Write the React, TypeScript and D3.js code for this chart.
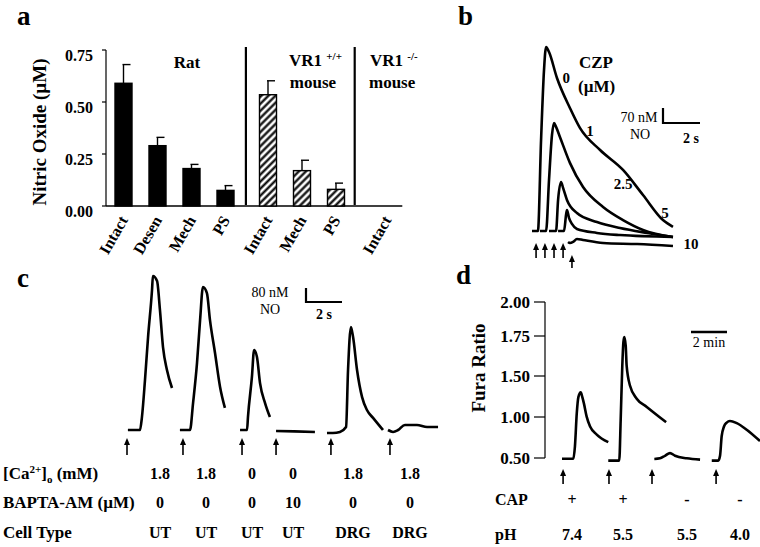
import React from "react";
import * as d3 from "d3";

const FONT = "'Liberation Serif', 'Times New Roman', serif";

// ---- panel a : NO release, mean + error
const ratCats = ["Intact", "Desen", "Mech", "PS"];
const ratMeans = [0.59, 0.29, 0.18, 0.075];
const ratErrs = [0.09, 0.04, 0.02, 0.023];
const wtCats = ["Intact", "Mech", "PS"];
const wtMeans = [0.535, 0.17, 0.08];
const wtErrs = [0.067, 0.05, 0.03];
const koCats = ["Intact"];
const koMeans = [0];
const koErrs = [0];
const noTicks = [0, 0.25, 0.5, 0.75];

// ---- panel b : NO traces vs capsazepine, [time s, NO nM]
const czpDoses = ["0", "1", "2.5", "5", "10"];
const czp0 = [[0, 0], [0.32, 0], [0.49, 425], [0.65, 752], [0.76, 859], [0.92, 835], [1.35, 714], [2.05, 574], [2.59, 481], [3.68, 378], [4.92, 285], [6.0, 168], [7.08, 51], [7.62, 19]];
const czp1 = [[0.43, 0], [0.76, 0], [0.92, 238], [1.08, 448], [1.19, 504], [1.3, 486], [1.51, 439], [2.05, 318], [2.76, 205], [3.84, 112], [4.92, 51], [6.0, 5], [7.62, -28]];
const czp25 = [[0.92, 0], [1.3, 0], [1.41, 145], [1.57, 229], [1.68, 201], [1.89, 145], [2.43, 84], [3.51, 42], [4.76, 14], [6.22, -9], [7.62, -28]];
const czp5 = [[1.41, 0], [1.73, 0], [1.84, 75], [1.89, 98], [2.0, 61], [2.16, 33], [2.43, 9], [3.51, -9], [4.76, -19], [7.62, -28]];
const czp10 = [[1.95, -51], [2.05, -56], [2.22, -51], [2.43, -37], [2.76, -42], [3.84, -56], [5.68, -61], [7.62, -70]];
const czpTraces = [czp0, czp1, czp25, czp5, czp10];
const czpLabelPos = [[1.85, 691], [3.14, 444], [4.92, 196], [7.19, 61], [8.59, -84]];
const czpArrows = [0.22, 0.7, 1.19, 1.68, 2.16];

// ---- panel c : NO traces per condition, [time s, NO nM]
const cTrace1 = [[0.05, 0], [0.72, 0], [0.83, 74], [1.0, 286], [1.17, 531], [1.39, 800], [1.44, 880], [1.67, 851], [1.83, 686], [2.0, 474], [2.22, 343], [2.5, 240]];
const cTrace2 = [[2.94, 0], [3.5, 0], [3.67, 154], [3.89, 383], [4.06, 628], [4.22, 817], [4.44, 782], [4.61, 628], [4.89, 440], [5.17, 246], [5.44, 126]];
const cTrace3 = [[6.28, 0], [6.67, 0], [6.72, 74], [6.94, 303], [7.06, 457], [7.22, 417], [7.39, 268], [7.67, 154], [7.94, 74]];
const cTrace4 = [[8.28, -6], [9.3, -8], [10.44, -11]];
const cTrace5 = [[11.11, -17], [11.44, -17], [11.83, -11], [12.17, 17], [12.28, 343], [12.44, 588], [12.56, 531], [12.78, 343], [13.06, 188], [13.33, 114], [13.67, 69], [14.22, 0]];
const cTrace6 = [[14.5, 0], [14.78, -11], [15.06, 0], [15.44, 29], [16.11, 29], [16.67, 17], [17.28, 17]];
const cTraces = [cTrace1, cTrace2, cTrace3, cTrace4, cTrace5, cTrace6];
const cArrows = [0, 3.11, 6.39, 8.28, 11.33, 14.61];
const caRow = ["1.8", "1.8", "0", "0", "1.8", "1.8"];
const baptaRow = ["0", "0", "0", "10", "0", "0"];
const cellRow = ["UT", "UT", "UT", "UT", "DRG", "DRG"];

// ---- panel d : Fura ratio, [time min, ratio]
const furaTicks = [0.5, 1.0, 1.5, 1.75, 2.0];
const dTrace1 = [[0, 0.49], [0.63, 0.49], [0.72, 0.646], [0.82, 1.044], [0.91, 1.242], [1.04, 1.302], [1.13, 1.242], [1.22, 1.163], [1.37, 1.004], [1.56, 0.884], [1.93, 0.786], [2.57, 0.694]];
const dTrace2 = [[2.57, 0.468], [3.18, 0.468], [3.26, 0.964], [3.35, 1.566], [3.41, 1.71], [3.46, 1.743], [3.54, 1.688], [3.59, 1.566], [3.78, 1.381], [4.15, 1.223], [4.71, 1.123], [5.78, 0.937]];
const dTrace3 = [[5.13, 0.488], [5.44, 0.496], [5.72, 0.527], [6.0, 0.56], [6.28, 0.527], [6.93, 0.496], [7.67, 0.48]];
const dTrace4 = [[8.32, 0.468], [8.68, 0.468], [8.78, 0.527], [8.87, 0.765], [9.0, 0.884], [9.15, 0.932], [9.33, 0.952], [9.71, 0.925], [10.26, 0.845], [11.0, 0.706]];
const dTraces = [dTrace1, dTrace2, dTrace3, dTrace4];
const dArrows = [0.06, 2.61, 5.0, 8.56];
const capRow = ["+", "+", "-", "-"];
const phRow = ["7.4", "5.5", "5.5", "4.0"];

function Arrow({ x, tip, len = 15 }) {
  return (
    <g>
      <line x1={x} x2={x} y1={tip + 5} y2={tip + len} stroke="#000" strokeWidth={1.6} />
      <path d={`M${x},${tip} L${x - 3},${tip + 7} L${x + 3},${tip + 7} Z`} fill="#000" />
    </g>
  );
}

export default function App() {
  const fmt = d3.format(".2f");

  // panel a scales
  const yA = d3.scaleLinear().domain([0, 0.75]).range([206, 50]);
  const slotA = d3.scaleLinear().domain([0, 1]).range([123.5, 157.5]);
  const groupStart = [0, 4.25, 7.75];
  const sepSlots = [3.6, 6.8];
  const groupsA = [
    { cats: ratCats, means: ratMeans, errs: ratErrs, hatched: false },
    { cats: wtCats, means: wtMeans, errs: wtErrs, hatched: true },
    { cats: koCats, means: koMeans, errs: koErrs, hatched: true },
  ];
  const barsA = groupsA.flatMap((g, gi) =>
    g.cats.map((c, i) => ({ cat: c, mean: g.means[i], err: g.errs[i], hatched: g.hatched, slot: groupStart[gi] + i }))
  );
  const bw = 17;

  // panel b
  const xB = d3.scaleLinear().domain([0, 1]).range([532, 550.5]);
  const yB = d3.scaleLinear().domain([0, 70]).range([231, 216]);
  const lineB = d3.line().x((d) => xB(d[0])).y((d) => yB(d[1])).curve(d3.curveMonotoneX);

  // panel c
  const xC = d3.scaleLinear().domain([0, 1]).range([127, 145]);
  const yC = d3.scaleLinear().domain([0, 80]).range([430, 416]);
  const lineC = d3.line().x((d) => xC(d[0])).y((d) => yC(d[1])).curve(d3.curveMonotoneX);
  const colC = [160, 206, 252, 293, 353, 410];

  // panel d
  const xD = d3.scaleLinear().domain([0, 1]).range([562, 580]);
  const yD = d3.scaleLinear().domain(furaTicks).range([458, 417, 376, 336, 302]);
  const lineD = d3.line().x((d) => xD(d[0])).y((d) => yD(d[1])).curve(d3.curveMonotoneX);
  const colD = [572, 623, 687, 740];

  const bold = { fontWeight: "bold" };
  const sw = 2.6;

  return (
    <svg width={760} height={547} style={{ position: "absolute", left: 0, top: 0, background: "#fff" }} fontFamily={FONT}>
      <defs>
        <pattern id="hatch" patternUnits="userSpaceOnUse" width="5" height="5" patternTransform="rotate(45)">
          <rect width="5" height="5" fill="#fff" />
          <line x1="2.5" y1="0" x2="2.5" y2="5" stroke="#000" strokeWidth="2.2" />
        </pattern>
      </defs>

      {/* panel letters */}
      <text x={17} y={25} fontSize={27} style={bold}>a</text>
      <text x={458} y={25} fontSize={27} style={bold}>b</text>
      <text x={17} y={287} fontSize={27} style={bold}>c</text>
      <text x={456} y={284} fontSize={27} style={bold}>d</text>

      {/* ===== panel a ===== */}
      <g>
        <line x1={106} x2={106} y1={yA(0.75)} y2={yA(0)} stroke="#000" strokeWidth={1.2} />
        {noTicks.map((t) => (
          <g key={t}>
            <line x1={102} x2={106} y1={yA(t)} y2={yA(t)} stroke="#000" strokeWidth={1.2} />
            <text x={93} y={yA(t) + 11} textAnchor="end" fontSize={16} style={bold}>{fmt(t)}</text>
          </g>
        ))}
        <line x1={106} x2={slotA(8.2)} y1={yA(0)} y2={yA(0)} stroke="#000" strokeWidth={1.5} />
        {sepSlots.map((s) => (
          <line key={s} x1={slotA(s)} x2={slotA(s)} y1={47} y2={yA(0) - 1} stroke="#000" strokeWidth={2.2} />
        ))}
        {barsA.map((b, i) => {
          const cx = slotA(b.slot);
          return (
            <g key={i}>
              {b.mean > 0 && (
                <>
                  <line x1={cx} x2={cx} y1={yA(b.mean)} y2={yA(b.mean + b.err)} stroke="#000" strokeWidth={1.4} />
                  <line x1={cx - 1} x2={cx + 7} y1={yA(b.mean + b.err)} y2={yA(b.mean + b.err)} stroke="#000" strokeWidth={1.4} />
                  <rect
                    x={cx - bw / 2}
                    y={yA(b.mean)}
                    width={bw}
                    height={yA(0) - yA(b.mean)}
                    fill={b.hatched ? "url(#hatch)" : "#000"}
                    stroke="#000"
                    strokeWidth={1.4}
                  />
                </>
              )}
              <text transform={`translate(${cx + 5},${220}) rotate(-60)`} textAnchor="end" fontSize={16} style={bold}>
                {b.cat}
              </text>
            </g>
          );
        })}
        <text transform="translate(46,132) rotate(-90)" textAnchor="middle" fontSize={19} style={bold}>
          Nitric Oxide (µM)
        </text>
        <text x={187} y={68} textAnchor="middle" fontSize={17} style={bold}>Rat</text>
        <text x={289} y={66} fontSize={17} style={bold}>
          VR1 <tspan fontSize={11} dy={-6}>+/+</tspan>
        </text>
        <text x={313} y={88} textAnchor="middle" fontSize={17} style={bold}>mouse</text>
        <text x={370} y={66} fontSize={17} style={bold}>
          VR1 <tspan fontSize={11} dy={-6}>-/-</tspan>
        </text>
        <text x={369} y={88} fontSize={17} style={bold}>mouse</text>
      </g>

      {/* ===== panel b ===== */}
      <g>
        {czpTraces.map((tr, i) => (
          <path key={i} d={lineB(tr)} fill="none" stroke="#000" strokeWidth={sw} strokeLinejoin="round" />
        ))}
        {czpDoses.map((d, i) => (
          <text key={d} x={xB(czpLabelPos[i][0])} y={yB(czpLabelPos[i][1])} textAnchor="middle" fontSize={15} style={bold}>
            {d}
          </text>
        ))}
        {czpArrows.map((t, i) => (
          <Arrow key={i} x={xB(t)} tip={i < 4 ? 243 : 255} len={i < 4 ? 15 : 13} />
        ))}
        <text x={579} y={68} fontSize={17} style={bold}>CZP</text>
        <text x={578} y={92} fontSize={17} style={bold}>(µM)</text>
        {/* scale bar 70 nM / 2 s */}
        <path
          d={`M${663},${123 - (yB(0) - yB(70))} L663,123 L${663 + xB(2) - xB(0)},123`}
          fill="none"
          stroke="#000"
          strokeWidth={2.2}
        />
        <text x={639} y={122} textAnchor="middle" fontSize={14}>70 nM</text>
        <text x={640} y={139} textAnchor="middle" fontSize={14}>NO</text>
        <text x={691} y={143} textAnchor="middle" fontSize={14} style={bold}>2 s</text>
      </g>

      {/* ===== panel c ===== */}
      <g>
        {cTraces.map((tr, i) => (
          <path key={i} d={lineC(tr)} fill="none" stroke="#000" strokeWidth={sw} strokeLinejoin="round" />
        ))}
        {cArrows.map((t, i) => (
          <Arrow key={i} x={xC(t)} tip={438} len={17} />
        ))}
        <path
          d={`M306,${302 - (yC(0) - yC(80))} L306,302 L${306 + xC(2) - xC(0)},302`}
          fill="none"
          stroke="#000"
          strokeWidth={2.2}
        />
        <text x={270} y={297} textAnchor="middle" fontSize={14}>80 nM</text>
        <text x={270} y={314} textAnchor="middle" fontSize={14}>NO</text>
        <text x={324} y={319} textAnchor="middle" fontSize={14} style={bold}>2 s</text>

        <text x={3} y={479} fontSize={17} style={bold}>
          [Ca<tspan fontSize={11} dy={-6}>2+</tspan>
          <tspan dy={6}>]</tspan>
          <tspan fontSize={11} dy={4}>o</tspan>
          <tspan dy={-4}> (mM)</tspan>
        </text>
        <text x={3} y={508} fontSize={17} style={bold}>BAPTA-AM (µM)</text>
        <text x={3} y={538} fontSize={17} style={bold}>Cell Type</text>
        {caRow.map((v, i) => (
          <text key={"ca" + i} x={colC[i]} y={479} textAnchor="middle" fontSize={16} style={bold}>{v}</text>
        ))}
        {baptaRow.map((v, i) => (
          <text key={"ba" + i} x={colC[i]} y={508} textAnchor="middle" fontSize={16} style={bold}>{v}</text>
        ))}
        {cellRow.map((v, i) => (
          <text key={"ct" + i} x={colC[i]} y={538} textAnchor="middle" fontSize={16} style={bold}>{v}</text>
        ))}
      </g>

      {/* ===== panel d ===== */}
      <g>
        <line x1={545} x2={545} y1={yD(2)} y2={yD(0.5)} stroke="#000" strokeWidth={1.2} />
        {furaTicks.map((t) => (
          <g key={t}>
            <line x1={534} x2={545} y1={yD(t)} y2={yD(t)} stroke="#000" strokeWidth={1.2} />
            <text x={530} y={yD(t) + 5.5} textAnchor="end" fontSize={17} style={bold}>{fmt(t)}</text>
          </g>
        ))}
        <text transform="translate(485,368) rotate(-90)" textAnchor="middle" fontSize={19} style={bold}>
          Fura Ratio
        </text>
        {dTraces.map((tr, i) => (
          <path key={i} d={lineD(tr)} fill="none" stroke="#000" strokeWidth={sw} strokeLinejoin="round" />
        ))}
        {dArrows.map((t, i) => (
          <Arrow key={i} x={xD(t)} tip={469} len={15} />
        ))}
        <line x1={691} x2={691 + xD(2) - xD(0)} y1={332} y2={332} stroke="#000" strokeWidth={2.4} />
        <text x={709} y={347} textAnchor="middle" fontSize={14}>2 min</text>
        <text x={495} y={505} fontSize={16} style={bold}>CAP</text>
        <text x={495} y={540} fontSize={16} style={bold}>pH</text>
        {capRow.map((v, i) => (
          <text key={"cap" + i} x={colD[i]} y={505} textAnchor="middle" fontSize={16} style={bold}>{v}</text>
        ))}
        {phRow.map((v, i) => (
          <text key={"ph" + i} x={colD[i]} y={540} textAnchor="middle" fontSize={16} style={bold}>{v}</text>
        ))}
      </g>
    </svg>
  );
}
